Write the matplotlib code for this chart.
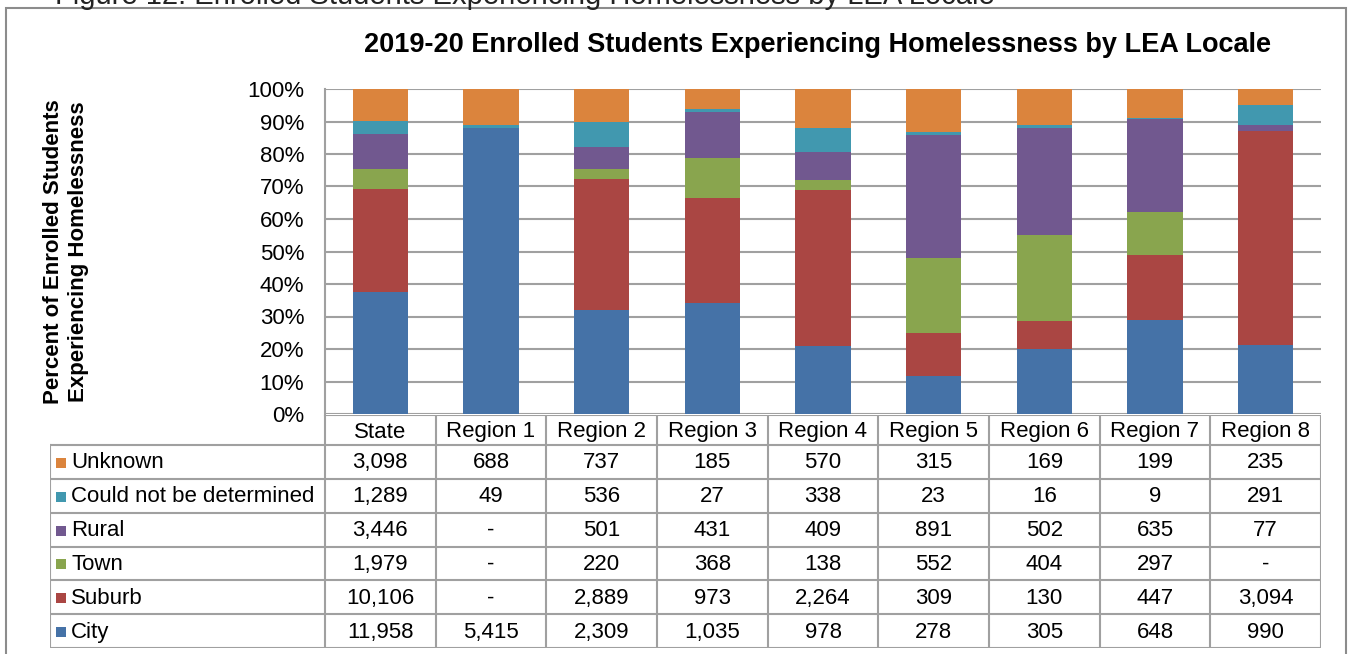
import matplotlib
matplotlib.use("Agg")
import matplotlib.pyplot as plt
import numpy as np
from matplotlib.patches import Rectangle
from matplotlib.lines import Line2D

plt.rcParams['font.family'] = ['Liberation Sans', 'DejaVu Sans']

categories = ["State", "Region 1", "Region 2", "Region 3", "Region 4",
              "Region 5", "Region 6", "Region 7", "Region 8"]
# series, bottom-up stacking order
city    = [11958, 5415, 2309, 1035, 978, 278, 305, 648, 990]
suburb  = [10106, 0, 2889, 973, 2264, 309, 130, 447, 3094]
town    = [1979, 0, 220, 368, 138, 552, 404, 297, 0]
rural   = [3446, 0, 501, 431, 409, 891, 502, 635, 77]
cnbd    = [1289, 49, 536, 27, 338, 23, 16, 9, 291]
unknown = [3098, 688, 737, 185, 570, 315, 169, 199, 235]

series_names = ["City", "Suburb", "Town", "Rural", "Could not be determined", "Unknown"]
series_vals = [city, suburb, town, rural, cnbd, unknown]
colors = ["#4572A7", "#AA4643", "#89A54E", "#71588F", "#4198AF", "#DB843D"]

title = "2019-20 Enrolled Students Experiencing Homelessness by LEA Locale"
caption = "Figure 12: Enrolled Students Experiencing Homelessness by LEA Locale"
ylabel = "Percent of Enrolled Students\nExperiencing Homelessness"

W, H = 1349, 654
fig = plt.figure(figsize=(W / 100, H / 100), dpi=100)

def fx(px):
    return px / W

def fy(py):
    return 1 - py / H

# outer frame
fig.patches.append(Rectangle((fx(6), fy(700)), fx(1346) - fx(6), fy(8) - fy(700),
                             transform=fig.transFigure, fill=False,
                             edgecolor="#8c8c8c", linewidth=1.5))

fig.text(fx(55), fy(4), caption, fontsize=21, ha="left", va="baseline",
         color="#222222")

# main plot
L, R, T, B = 325, 1321, 89, 414
ax = fig.add_axes([fx(L), fy(B), fx(R) - fx(L), fy(T) - fy(B)])
data = np.array(series_vals, dtype=float)
totals = data.sum(axis=0)
pct = data / totals
x = np.arange(len(categories))
bottom = np.zeros(len(categories))
for name, p, c in zip(series_names, pct, colors):
    ax.bar(x, p, 0.5, bottom=bottom, color=c, label=name, zorder=3)
    bottom += p

ax.set_xlim(-0.5, len(categories) - 0.5)
ax.set_ylim(0, 1)
ax.set_yticks(np.arange(0, 1.01, 0.1))
ax.set_yticklabels([f"{int(round(v * 100))}%" for v in np.arange(0, 1.01, 0.1)], fontsize=16)
ax.tick_params(axis="y", length=0, pad=15)
ax.set_xticks([])
ax.grid(axis="y", color="#a0a0a0", linewidth=1.5, zorder=0)
for s in ["top", "right", "bottom"]:
    ax.spines[s].set_visible(False)
ax.spines["left"].set_color("#a0a0a0")
ax.spines["left"].set_linewidth(1.5)

fig.text(fx(818), fy(52), title, fontsize=19.5, fontweight="bold",
         ha="center", va="baseline")
fig.text(fx(66), fy(252), ylabel, fontsize=16, fontweight="bold",
         rotation=90, ha="center", va="center", linespacing=1.2)

# data table
TL, TT, TB = 50, 415, 648
tax = fig.add_axes([fx(TL), fy(TB), fx(R) - fx(TL), fy(TT) - fy(TB)])
colw = (R - L) / len(categories)
lab_w = (L - TL) / colw
x0 = -0.5 - lab_w
tax.set_xlim(x0, len(categories) - 0.5)
hdr = 30
rowh = (TB - TT - hdr) / len(series_names)
tax.set_ylim(TB - TT, 0)
tax.axis("off")
gc = "#a0a0a0"
lw = 1.5
fs = 16
# header
tax.add_line(Line2D([-0.5, len(categories) - 0.5], [0, 0], color=gc, lw=lw))
for i, cat in enumerate(categories):
    tax.text(i, hdr / 2 + 2, cat, ha="center", va="center", fontsize=fs)
# horizontal lines
for r in range(len(series_names) + 1):
    yv = hdr + r * rowh
    tax.add_line(Line2D([x0, len(categories) - 0.5], [yv, yv], color=gc, lw=lw))
# vertical lines
tax.add_line(Line2D([x0, x0], [hdr, TB - TT], color=gc, lw=lw))
for i in range(len(categories) + 1):
    tax.add_line(Line2D([i - 0.5, i - 0.5], [0, TB - TT], color=gc, lw=lw))
# rows (top row = Unknown)
order = list(range(len(series_names)))[::-1]
for r, si in enumerate(order):
    yc = hdr + (r + 0.5) * rowh + 1
    tax.plot([x0 + 11 / colw], [yc], marker="s", markersize=7,
             color=colors[si], markeredgewidth=0)
    tax.text(x0 + 21 / colw, yc, series_names[si], ha="left", va="center", fontsize=fs)
    for i in range(len(categories)):
        v = series_vals[si][i]
        s = f"{v:,}" if v else "-"
        tax.text(i, yc, s, ha="center", va="center", fontsize=fs)

fig.savefig("out.png", dpi=100)
